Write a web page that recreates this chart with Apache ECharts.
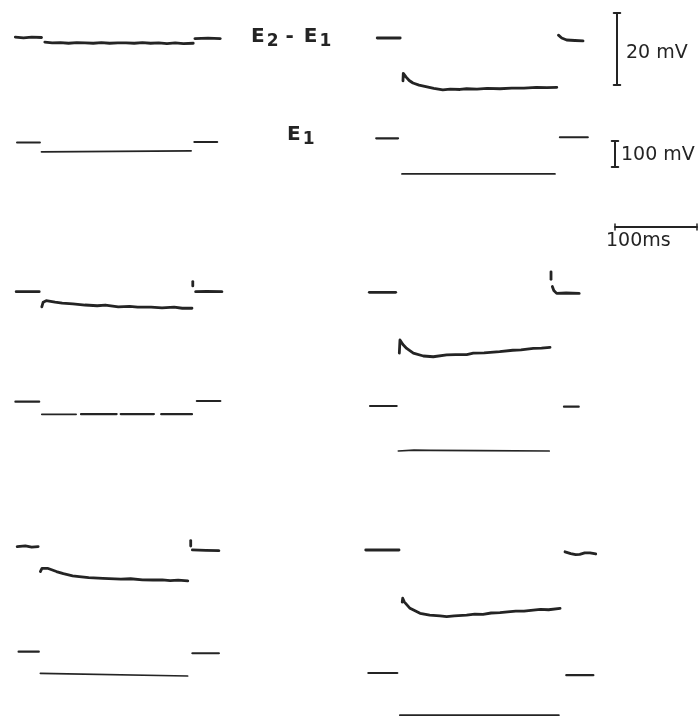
<!DOCTYPE html>
<html><head><meta charset="utf-8">
<script src="https://cdn.jsdelivr.net/npm/echarts@6/dist/echarts.min.js"></script>
<style>html,body{margin:0;padding:0;background:#fff}#c{width:700px;height:722px}</style>
</head><body><div id="c"></div>
<script>
// ---- DATA: [time ms from pulse onset, mV from resting level]; null = gap in the photographic trace ----
// Panel A (top-left)
const aDiff = [[-35,0.1],[-25,-0.1],[-15,0.1],[-3,0], null,
  [1,-1.3],[10,-1.5],[20,-1.4],[30,-1.6],[40,-1.4],[50,-1.5],[60,-1.6],[70,-1.4],[80,-1.6],[90,-1.5],[100,-1.5],[110,-1.6],[120,-1.4],[130,-1.6],[140,-1.5],[150,-1.7],[160,-1.5],[170,-1.7],[182,-1.6], null,
  [184,-0.3],[200,-0.2],[215,-0.3]];
const aE1 = [[-29,0],[-1,0], null, [1,-36],[185,-32], null, [189,2],[217,2]];
// Panel B (top-right)
const bDiff = [[-29,0],[-1,0], null,
  [2.4,-11.9],[2.8,-9.8],[6,-10.8],[10,-11.8],[14.6,-12.5],[22,-13.1],[31.7,-13.6],[40,-14],[51,-14.4],[60,-14.2],[72,-14.3],[80,-14.1],[92.7,-14.2],[105,-14],[120.7,-14.1],[135,-13.9],[150,-13.9],[165,-13.7],[178,-13.8],[190,-13.7], null,
  [192,0.8],[196,0],[202,-0.55],[212,-0.7],[222,-0.8]];
const bE1 = [[-29,0],[-2.4,0], null, [2.4,-137],[189,-137], null, [195,4],[229,4]];
// Panel C (middle-left)
const cDiff = [[-30,0],[-1.6,0], null,
  [1.6,-4.2],[3.3,-2.9],[7,-2.5],[10.6,-2.6],[18,-2.9],[26.8,-3.2],[40,-3.4],[55,-3.7],[70,-3.9],[80,-3.7],[96,-4.2],[110,-4.1],[120,-4.3],[136.6,-4.3],[150,-4.5],[165,-4.3],[175,-4.6],[187,-4.6], null,
  [188,1.6],[188,2.8], null,
  [191.5,0],[205,0.1],[224,0]];
const cE1 = [[-31,0],[-1.6,0], null,
  [1.6,-48.5],[44,-48.5], null, [50,-48],[94,-47.5], null, [99,-47.5],[140,-47.5], null, [149,-48],[187,-48], null,
  [193,2.6],[222,2.6]];
// Panel D (middle-right)
const dDiff = [[-35,0],[-2.8,0], null,
  [1.6,-16.9],[2.4,-13.25],[6,-14.5],[10.6,-15.6],[18.7,-16.9],[30.9,-17.7],[43,-17.9],[59.4,-17.4],[70,-17.3],[83.8,-17.3],[91.8,-16.9],[105,-16.8],[124,-16.5],[140,-16.1],[150,-16.0],[165,-15.6],[175,-15.5],[185.4,-15.3], null,
  [186.6,3.6],[186.6,5.7], null,
  [188.2,1.6],[190,0.5],[193.5,-0.3],[205,-0.2],[221,-0.3]];
const dE1 = [[-33.5,0],[-1,0], null, [1,-173],[20,-170],[40,-171],[100,-172],[185,-173], null, [203,-2.6],[221,-2.6]];
// Panel E (bottom-left)
const eDiff = [[-28.3,0],[-18,0.2],[-10,-0.1],[-1.8,0], null,
  [1,-6.9],[3,-6.0],[5.1,-5.7],[10,-6.0],[21.3,-6.9],[30,-7.5],[41.7,-8.1],[50,-8.3],[62,-8.6],[80,-8.8],[102.7,-9.0],[115,-8.9],[130,-9.2],[143.3,-9.25],[155,-9.2],[165,-9.4],[175,-9.3],[187.2,-9.5], null,
  [190.9,0.2],[190.9,1.7], null,
  [193,-0.9],[210,-1.0],[226.5,-1.1]];
const eE1 = [[-26.5,0],[-1,0], null, [1,-83],[187,-93.5], null, [193,-6],[226.5,-6]];
// Panel F (bottom-right)
const fDiff = [[-43,0],[-2.4,0], null,
  [1.5,-14.5],[2.1,-13.4],[4,-14.4],[11,-16.2],[23.2,-17.6],[35,-18.1],[47.6,-18.3],[55.7,-18.5],[65,-18.3],[80,-18.1],[90,-17.8],[100,-17.9],[110,-17.5],[120.7,-17.4],[130,-17.2],[140,-17.0],[150,-17.0],[161.3,-16.7],[170,-16.5],[180,-16.6],[194,-16.2], null,
  [200,-0.5],[207,-1.0],[213,-1.3],[218,-1.2],[224,-0.8],[230.5,-0.8],[237.5,-1.1]];
const fE1 = [[-37.4,0],[-2.1,0], null, [1,-172],[195,-172], null, [204,-9],[237,-9]];

// Scale bars
const barMV20 = [0, 20];     // mV
const barMV100 = [0, 100];   // mV
const barMS100 = [0, 100];   // ms
// Labels
const labelDiff = ['E', '2', '-', 'E', '1'];
const labelE1 = ['E', '1'];
const labelBars = ['20 mV', '100 mV', '100ms'];

// ---- LAYOUT (positions/scales only) ----
const PX_PER_MS = 0.82, PX_PER_MV_DIFF = 3.6, PX_PER_MV_E1 = 0.26;
const T_MIN = -50, T_MAX = 250;
const DIFF_MIN = -24, DIFF_MAX = 8, E1_MIN = -200, E1_MAX = 20;
const traces = [
  {data: aDiff, kind: 'diff', x0: 44,    y0: 37.5},
  {data: aE1,   kind: 'e1',   x0: 39,    y0: 142.5},
  {data: bDiff, kind: 'diff', x0: 401,   y0: 38},
  {data: bE1,   kind: 'e1',   x0: 400,   y0: 138.3},
  {data: cDiff, kind: 'diff', x0: 38,    y0: 291.7},
  {data: cE1,   kind: 'e1',   x0: 38,    y0: 401.7},
  {data: dDiff, kind: 'diff', x0: 398,   y0: 292.3},
  {data: dE1,   kind: 'e1',   x0: 397.5, y0: 406},
  {data: eDiff, kind: 'diff', x0: 32.5,  y0: 546.7},
  {data: eE1,   kind: 'e1',   x0: 32.5,  y0: 651.7},
  {data: fDiff, kind: 'diff', x0: 401,   y0: 550},
  {data: fE1,   kind: 'e1',   x0: 399,   y0: 673.3}
];
const INK = '#242424';

function segments(arr) {
  const out = [[]];
  arr.forEach(p => { if (p === null) out.push([]); else out[out.length - 1].push(p); });
  return out.filter(s => s.length);
}

const grid = [], xAxis = [], yAxis = [], series = [];
function addGrid(g, xr, yr) {
  grid.push(Object.assign({show: false}, g));
  const i = grid.length - 1;
  xAxis.push({type: 'value', gridIndex: i, min: xr[0], max: xr[1], show: false});
  yAxis.push({type: 'value', gridIndex: i, min: yr[0], max: yr[1], show: false});
  return i;
}
function addLine(i, data, width) {
  series.push({type: 'line', xAxisIndex: i, yAxisIndex: i, data: data, symbol: 'none', showSymbol: false,
    silent: true, animation: false, clip: false,
    lineStyle: {color: INK, width: width, cap: 'round', join: 'round'}});
}

traces.forEach(tr => {
  const isDiff = tr.kind === 'diff';
  const ppm = isDiff ? PX_PER_MV_DIFF : PX_PER_MV_E1;
  const ymin = isDiff ? DIFF_MIN : E1_MIN, ymax = isDiff ? DIFF_MAX : E1_MAX;
  const i = addGrid({
    left: tr.x0 + T_MIN * PX_PER_MS, width: (T_MAX - T_MIN) * PX_PER_MS,
    top: tr.y0 - ymax * ppm, height: (ymax - ymin) * ppm
  }, [T_MIN, T_MAX], [ymin, ymax]);
  segments(tr.data).forEach(s => {
    const isStep = s.length > 1 && s[0][0] > 0 && s[0][0] < 10;
    addLine(i, s, isDiff ? 2.8 : (isStep ? 1.7 : 2.2));
  });
});

// 20 mV bar
(function () {
  const i = addGrid({left: 617 - 10 * PX_PER_MS, width: 20 * PX_PER_MS, top: 13, height: 20 * PX_PER_MV_DIFF}, [-10, 10], [0, 20]);
  addLine(i, [[0, barMV20[0]], [0, barMV20[1]]], 2);
  addLine(i, [[-4, barMV20[0]], [4, barMV20[0]]], 2);
  addLine(i, [[-4, barMV20[1]], [4, barMV20[1]]], 2);
})();
// 100 mV bar
(function () {
  const i = addGrid({left: 615 - 10 * PX_PER_MS, width: 20 * PX_PER_MS, top: 141, height: 100 * PX_PER_MV_E1}, [-10, 10], [0, 100]);
  addLine(i, [[0, barMV100[0]], [0, barMV100[1]]], 2);
  addLine(i, [[-4, barMV100[0]], [4, barMV100[0]]], 2);
  addLine(i, [[-4, barMV100[1]], [4, barMV100[1]]], 2);
})();
// 100 ms bar
(function () {
  const i = addGrid({left: 615, width: 100 * PX_PER_MS, top: 227 - 2 * PX_PER_MV_DIFF, height: 4 * PX_PER_MV_DIFF}, [0, 100], [-2, 2]);
  addLine(i, [[barMS100[0], 0], [barMS100[1], 0]], 1.8);
  addLine(i, [[barMS100[0], -0.8], [barMS100[0], 0.8]], 1.5);
  addLine(i, [[barMS100[1], -0.8], [barMS100[1], 0.8]], 1.5);
})();

const FONT = 'DejaVu Sans';
const richLab = {
  e: {fontFamily: FONT, fontSize: 20, fontWeight: 'bold', color: INK, lineHeight: 24},
  s: {fontFamily: FONT, fontSize: 17, fontWeight: 'bold', color: INK, lineHeight: 18, padding: [9, 0, 0, 2]},
  d: {fontFamily: FONT, fontSize: 20, fontWeight: 'bold', color: INK, lineHeight: 24, padding: [0, 10, 0, 7]}
};
const title = [
  {left: 251, top: 25, padding: 0, text: '{e|' + labelDiff[0] + '}{s|' + labelDiff[1] + '}{d|' + labelDiff[2] + '}{e|' + labelDiff[3] + '}{s|' + labelDiff[4] + '}',
    textStyle: {rich: richLab}},
  {left: 287, top: 123, padding: 0, text: '{e|' + labelE1[0] + '}{s|' + labelE1[1] + '}', textStyle: {rich: richLab}},
  {left: 626, top: 44, padding: 0, text: labelBars[0], textStyle: {fontFamily: FONT, fontSize: 19, fontWeight: 'normal', color: INK}},
  {left: 621, top: 146, padding: 0, text: labelBars[1], textStyle: {fontFamily: FONT, fontSize: 19, fontWeight: 'normal', color: INK}},
  {left: 606, top: 232, padding: 0, text: labelBars[2], textStyle: {fontFamily: FONT, fontSize: 19, fontWeight: 'normal', color: INK}}
];

const chart = echarts.init(document.getElementById('c'), null, {renderer: 'canvas'});
chart.setOption({backgroundColor: '#ffffff', animation: false, title, grid, xAxis, yAxis, series});
</script></body></html>
